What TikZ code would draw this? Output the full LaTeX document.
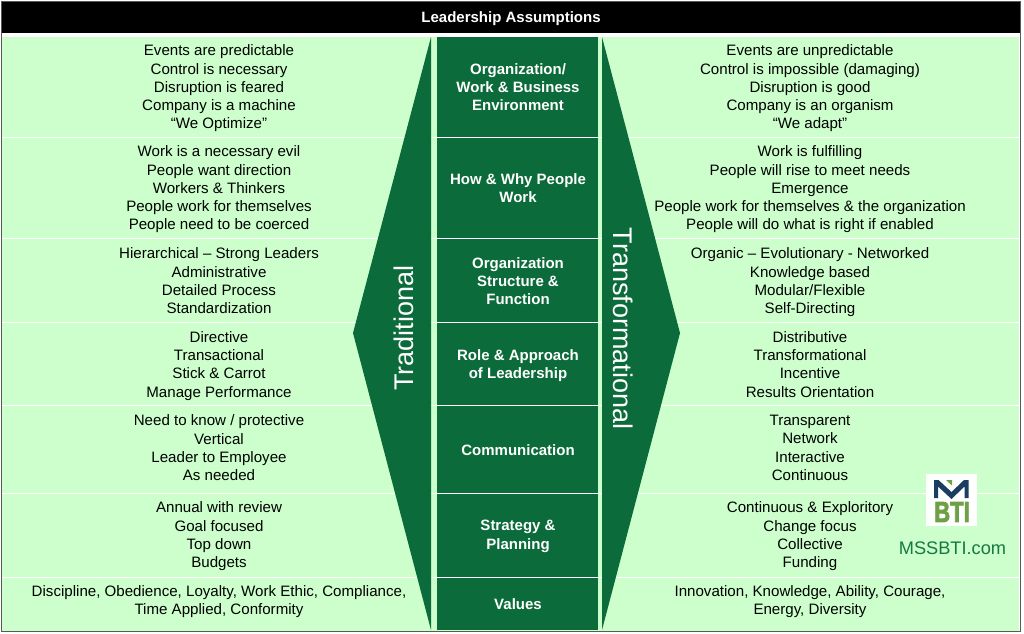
\documentclass[tikz,border=0pt]{standalone}
\usepackage{fontspec}
\setmainfont{Liberation Sans}
\newfontfamily\logofont[BoldFeatures={FakeBold=3}]{Liberation Sans}
\definecolor{darkgreen}{RGB}{11,107,58}
\definecolor{palegreen}{RGB}{204,255,204}
\definecolor{logoblue}{RGB}{27,62,96}
\definecolor{logogreen}{RGB}{110,160,70}
\definecolor{sitegreen}{RGB}{22,120,66}
\tikzset{
  rowtext/.style={align=center,text=black,inner sep=0pt,yshift=-2.5pt,font=\fontsize{15.1}{18.2}\selectfont,
    execute at begin node=\strut,execute at end node=\strut},
  headtext/.style={align=center,text=white,inner sep=0pt,yshift=-2.5pt,font=\fontsize{15}{18.2}\selectfont\bfseries,
    execute at begin node=\strut,execute at end node=\strut},
  sidetext/.style={text=white,font=\fontsize{27}{30}\selectfont,inner sep=0pt},
  rowline/.style={draw=white,line width=1pt},
}
\begin{document}
\begin{tikzpicture}[x=1pt,y=-1pt]
      \useasboundingbox (0,0) rectangle (1024,633);
      \fill[white] (0,0) rectangle (1024,633);
      \draw[gray!70!black,line width=1pt] (1.5,1.5) rectangle (1020.5,631.5);

      % title bar
      \fill[black] (2,2) rectangle (1020,33);
      \node[headtext] (title) at (511,16) {Leadership Assumptions};

      % pale background and row lines
      \fill[palegreen] (2,37) rectangle (1018.5,630.5);
      \foreach \y in {137,238.5,322,405.5,493,577}{
        \draw[rowline] (2,\y) -- (1018.5,\y);
      }

      % the two arrow shapes
      \fill[darkgreen] (431,37) -- (353,333) -- (431,630) -- cycle;
      \fill[darkgreen] (602,37) -- (680,333) -- (602,630) -- cycle;
      \node[sidetext,rotate=90] (trad) at (404,328) {Traditional};
      \node[sidetext,rotate=-90] (trans) at (623,328.5) {Transformational};

      % centre column
      \fill[darkgreen] (437,37) rectangle (598,630);
      \foreach \y in {137,238.5,322,405.5,493,577}{
        \draw[rowline] (437,\y) -- (598,\y);
      }
      \node[headtext] (envhead) at (518,87) {Organization/\\Work \& Business\\Environment};
      \node[headtext] (workhead) at (518,188) {How \& Why People\\Work};
      \node[headtext] (structhead) at (518,281) {Organization\\Structure \&\\Function};
      \node[headtext] (rolehead) at (518,364) {Role \& Approach\\of Leadership};
      \node[headtext] (commhead) at (518,449) {Communication};
      \node[headtext] (planhead) at (518,535) {Strategy \&\\Planning};
      \node[headtext] (valhead) at (518,603) {Values};

      % traditional column
      \node[rowtext] (envtrad) at (219,87) {Events are predictable\\Control is necessary\\Disruption is feared\\Company is a machine\\“We Optimize”};
      \node[rowtext] (worktrad) at (219,188) {Work is a necessary evil\\People want direction\\Workers \& Thinkers\\People work for themselves\\People need to be coerced};
      \node[rowtext] (structtrad) at (219,281) {Hierarchical – Strong Leaders\\Administrative\\Detailed Process\\Standardization};
      \node[rowtext] (roletrad) at (219,364.5) {Directive\\Transactional\\Stick \& Carrot\\Manage Performance};
      \node[rowtext] (commtrad) at (219,448) {Need to know / protective\\Vertical\\Leader to Employee\\As needed};
      \node[rowtext] (plantrad) at (219,535) {Annual with review\\Goal focused\\Top down\\Budgets};
      \node[rowtext] (valtrad) at (219,600) {Discipline, Obedience, Loyalty, Work Ethic, Compliance,\\Time Applied, Conformity};

      % transformational column
      \node[rowtext] (envtrans) at (810,87) {Events are unpredictable\\Control is impossible (damaging)\\Disruption is good\\Company is an organism\\“We adapt”};
      \node[rowtext] (worktrans) at (810,188) {Work is fulfilling\\People will rise to meet needs\\Emergence\\People work for themselves \& the organization\\People will do what is right if enabled};
      \node[rowtext] (structtrans) at (810,281) {Organic – Evolutionary - Networked\\Knowledge based\\Modular/Flexible\\Self-Directing};
      \node[rowtext] (roletrans) at (810,364.5) {Distributive\\Transformational\\Incentive\\Results Orientation};
      \node[rowtext] (commtrans) at (810,448) {Transparent\\Network\\Interactive\\Continuous};
      \node[rowtext] (plantrans) at (810,535) {Continuous \& Exploritory\\Change focus\\Collective\\Funding};
      \node[rowtext] (valtrans) at (810,600) {Innovation, Knowledge, Ability, Courage,\\Energy, Diversity};

      % logo
      \fill[white] (926,474) rectangle (977,526);
      \fill[logoblue] (934,480) -- (938.5,480) -- (951.5,492) -- (964,480) -- (968.5,480) -- (968.5,498) -- (964.5,498) -- (964.5,486.5) -- (951.5,499) -- (938,486.5) -- (938,498) -- (934,498) -- cycle;
      \fill[logogreen] (946,480) -- (952,480) -- (952,485.5) -- cycle;
      \node[text=logogreen,font=\logofont\fontsize{29}{29}\selectfont\bfseries,xscale=0.76,inner sep=0pt] (logobti) at (952,512) {BTI};
      \node[text=sitegreen,font=\fontsize{18.2}{20}\selectfont,inner sep=0pt] (site) at (952.5,548) {MSSBTI.com};
    \end{tikzpicture}
\end{document}
